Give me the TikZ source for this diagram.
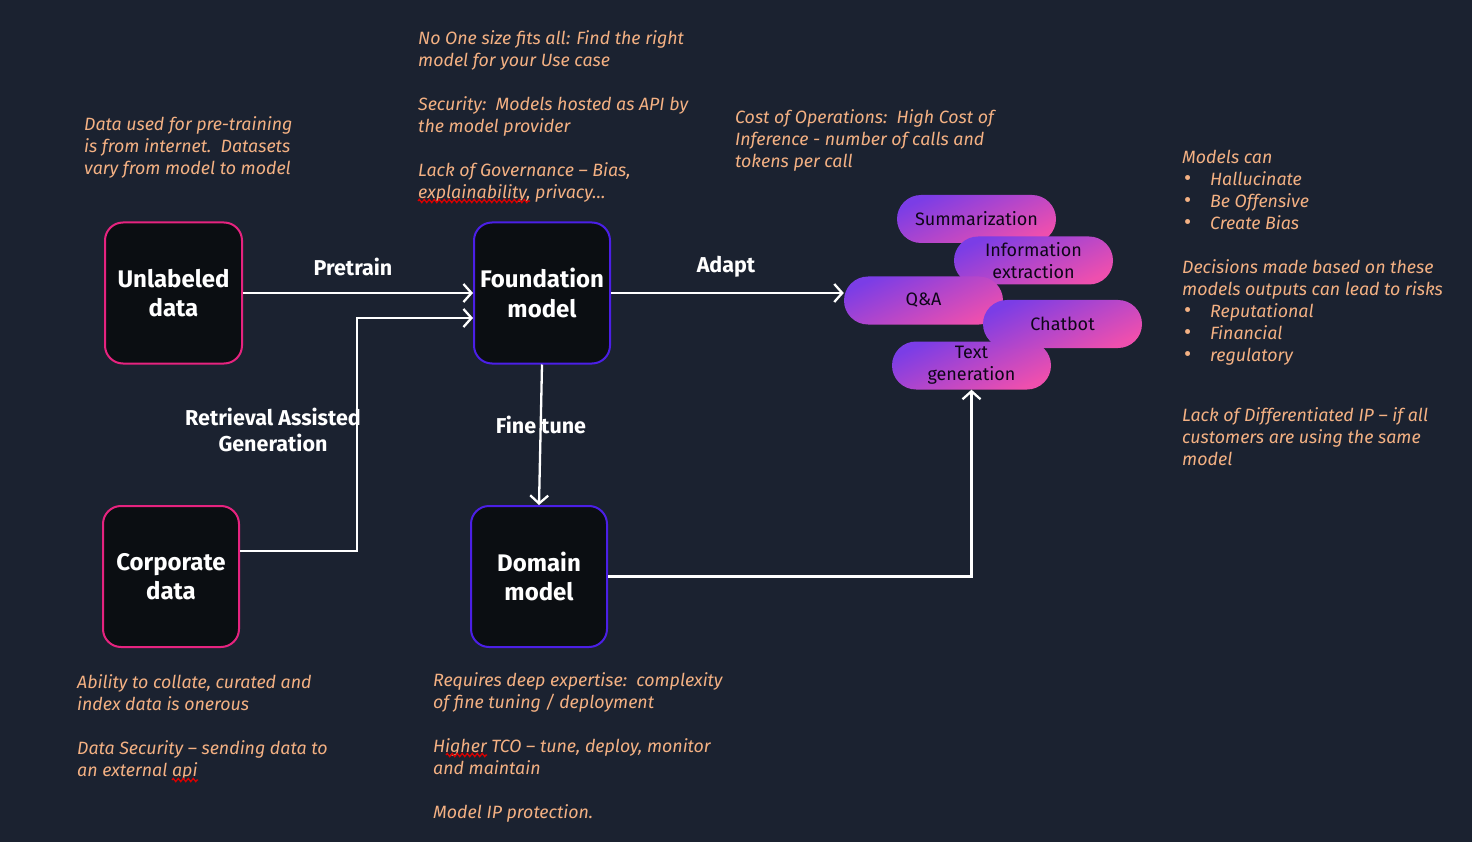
\documentclass[tikz,border=0pt]{standalone}
\usepackage{fontspec}
\setmainfont{Fira Sans}
\usetikzlibrary{arrows.meta,decorations.pathmorphing}
\definecolor{bg}{HTML}{1B2230}
\definecolor{notec}{HTML}{F4B183}
\definecolor{boxfill}{HTML}{0B0E12}
\definecolor{pinkb}{HTML}{E6237F}
\definecolor{purb}{HTML}{4B1FE6}
\definecolor{pillA}{HTML}{7B3DE6}
\definecolor{pillB}{HTML}{EE4FAE}
\definecolor{pilltext}{HTML}{0E0618}
\tikzset{
  bigbox/.style={draw, line width=2pt, fill=boxfill, rounded corners=18pt,
    minimum height=141pt, text=white, align=center, inner sep=0pt,
    font=\fontsize{24}{29.5}\selectfont\bfseries},
  pill/.style={rounded corners=24pt, minimum width=159pt, minimum height=48pt,
    top color=pillA, bottom color=pillB, shading angle=25, text=pilltext,
    font=\fontsize{18}{22}\selectfont, align=center, inner sep=0pt},
  notetext/.style={text=notec, font=\fontsize{17.8}{22}\selectfont\itshape,
    align=left, anchor=north west, inner sep=0pt},
  lbl/.style={text=white, font=\fontsize{21.5}{26}\selectfont\bfseries, align=center, inner sep=0pt},
  conn/.style={draw=white, line width=2.3pt, -{Straight Barb[length=8pt,width=18pt,line width=2.3pt]}},
  squig/.style={draw=red!85!black, line width=1.3pt, decorate,
    decoration={zigzag, amplitude=1.6pt, segment length=5pt}}
}
\newcommand{\bul}{\hspace*{2pt}\makebox[26pt][l]{\upshape\fontsize{22}{22}\selectfont\textbullet}}
\begin{document}
\begin{tikzpicture}[x=1pt,y=-1pt]
\fill[bg] (0,0) rectangle (1472,842);
\useasboundingbox (0,0) rectangle (1472,842);

% main boxes
\node[bigbox, draw=pinkb, minimum width=137pt] (unl) at (173.5,293) {Unlabeled\\data};
\node[bigbox, draw=purb, minimum width=136pt] (found) at (542,293) {Foundation\\model};
\node[bigbox, draw=pinkb, minimum width=136pt] (corp) at (171,576.5) {Corporate\\data};
\node[bigbox, draw=purb, minimum width=136pt] (dom) at (539,576.5) {Domain\\model};

% pills
\node[pill] (summ) at (976.5,219) {Summarization};
\node[pill] (info) at (1033.5,260.5) {Information\\extraction};
\node[pill] (qa) at (923.5,300.5) {Q\&A};
\node[pill] (tg) at (971.5,365.5) {Text\\generation};
\node[pill] (chat) at (1062.5,324) {Chatbot};

% labels
\node[lbl] (lpre) at (353,267) {Pretrain};
\node[lbl] (ladapt) at (726,267) {Adapt};
\node[lbl] (lrag) at (273,430) {Retrieval Assisted\\Generation};
\node[lbl] (lfine) at (541,425) {Fine tune};

% connectors
\coordinate (ragbend) at (357,318);
\draw[conn] (unl.east) -- (found.west);
\draw[conn] ([yshift=25.5pt]corp.east) -| (ragbend) -- (found.west |- ragbend);
\draw[conn] (found.east) -- (found.east -| qa.west);
\draw[conn] (found.south) -- (dom.north);
\draw[conn] (dom.east) -| (tg.south);

% notes
\node[notetext] (n1) at (84,116) {Data used for pre-training\\is from internet.\ \ Datasets\\vary from model to model};
\node[notetext] (n2) at (418,30) {No One size fits all: Find the right\\model for your Use case\\[22pt]Security:\ \ Models hosted as API by\\the model provider\\[22pt]Lack of Governance – Bias,\\explainability, privacy…};
\node[notetext] (n3) at (735,109) {Cost of Operations:\ \ High Cost of\\Inference - number of calls and\\tokens per call};
\node[notetext] (n4) at (1182,150) {Models can\\\bul Hallucinate\\\bul Be Offensive\\\bul Create Bias\\[22pt]Decisions made based on these\\models outputs can lead to risks\\\bul Reputational\\\bul Financial\\\bul regulatory\\[38pt]Lack of Differentiated IP – if all\\customers are using the same\\model};
\node[notetext] (n5) at (77,674) {Ability to collate, curated and\\index data is onerous\\[22pt]Data Security – sending data to\\an external api};
\node[notetext] (n6) at (433,672) {Requires deep expertise:\ \ complexity\\of fine tuning / deployment\\[22pt]Higher TCO – tune, deploy, monitor\\and maintain\\[22pt]Model IP protection.};

% spell-check squiggles
\draw[squig] (418,201) -- (530,201);
\draw[squig] (172,780) -- (198,780);
\draw[squig] (446,755) -- (487,755);
\end{tikzpicture}
\end{document}
